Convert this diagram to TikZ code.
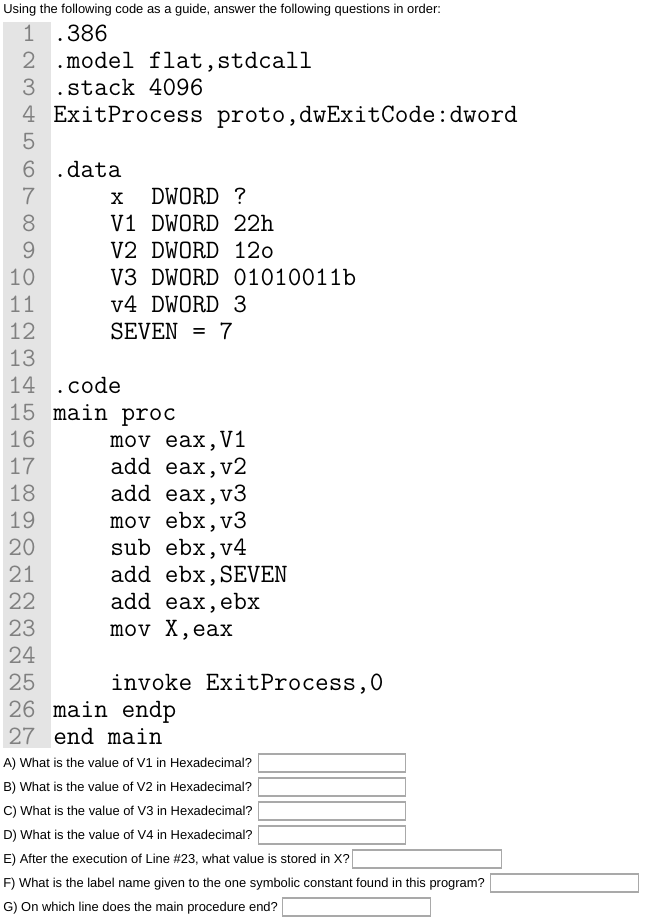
\documentclass[tikz,border=0pt]{standalone}
\usepackage{fontspec}
\setmainfont{Liberation Sans}
\definecolor{gutter}{HTML}{E4E4E4}
\definecolor{numgray}{HTML}{808080}
\definecolor{boxgray}{HTML}{A9A9A9}
\tikzset{
  codeline/.style={anchor=base west,inner sep=0pt,font=\ttfamily\fontsize{19.9}{19.9}\selectfont},
  lineno/.style={anchor=base east,inner sep=0pt,text=numgray,font=\ttfamily\fontsize{19.9}{19.9}\selectfont},
  question/.style={anchor=base west,inner sep=0pt,font=\fontsize{9.7}{9.7}\selectfont},
  answerbox/.style={draw=boxgray,line width=0.8pt,anchor=west,minimum height=13.5pt,inner sep=0pt}
}
\begin{document}
\begin{tikzpicture}[x=0.75pt,y=-0.75pt]
\useasboundingbox (0,0) rectangle (644,920);
\node[question] (intro) at (3,14) {Using the following code as a guide, answer the following questions in order:};
\fill[gutter] (3,22) rectangle (51,748);
% line numbers
\foreach \n in {1,...,27}
  \node[lineno] (n\n) at (36,{42+27*(\n-1)}) {\n};
% code
\foreach \n/\ind/\txt in {1/0/.386, 2/0/.model flat{,}stdcall, 3/0/.stack 4096,
  4/0/ExitProcess proto{,}dwExitCode:dword, 6/0/.data,
  7/1/x~~DWORD ?, 8/1/V1 DWORD 22h, 9/1/V2 DWORD 12o, 10/1/V3 DWORD 01010011b,
  11/1/v4 DWORD 3, 12/1/SEVEN = 7, 14/0/.code, 15/0/main proc,
  16/1/mov eax{,}V1, 17/1/add eax{,}v2, 18/1/add eax{,}v3, 19/1/mov ebx{,}v3,
  20/1/sub ebx{,}v4, 21/1/add ebx{,}SEVEN, 22/1/add eax{,}ebx, 23/1/mov X{,}eax,
  25/1/invoke ExitProcess{,}0, 26/0/main endp, 27/0/end main}
  \node[codeline] (c\n) at ({53+57*\ind},{42+27*(\n-1)}) {\txt};
% questions
\foreach \q/\y/\bx/\bw/\txt in {a/763/258/147/A) What is the value of V1 in Hexadecimal?,
  b/787/258/147/B) What is the value of V2 in Hexadecimal?,
  c/811/258/147/C) What is the value of V3 in Hexadecimal?,
  d/835/258/147/D) What is the value of V4 in Hexadecimal?,
  e/859/352/149/E) After the execution of Line \#23{,} what value is stored in X?,
  f/883/490/148/F) What is the label name given to the one symbolic constant found in this program?,
  g/907/282/148/G) On which line does the main procedure end?}
{
  \node[question] (q\q) at (3,\y+4) {\txt};
  \node[answerbox,minimum width=\bw*0.75pt] (box\q) at (\bx,\y) {};
}
\end{tikzpicture}
\end{document}
